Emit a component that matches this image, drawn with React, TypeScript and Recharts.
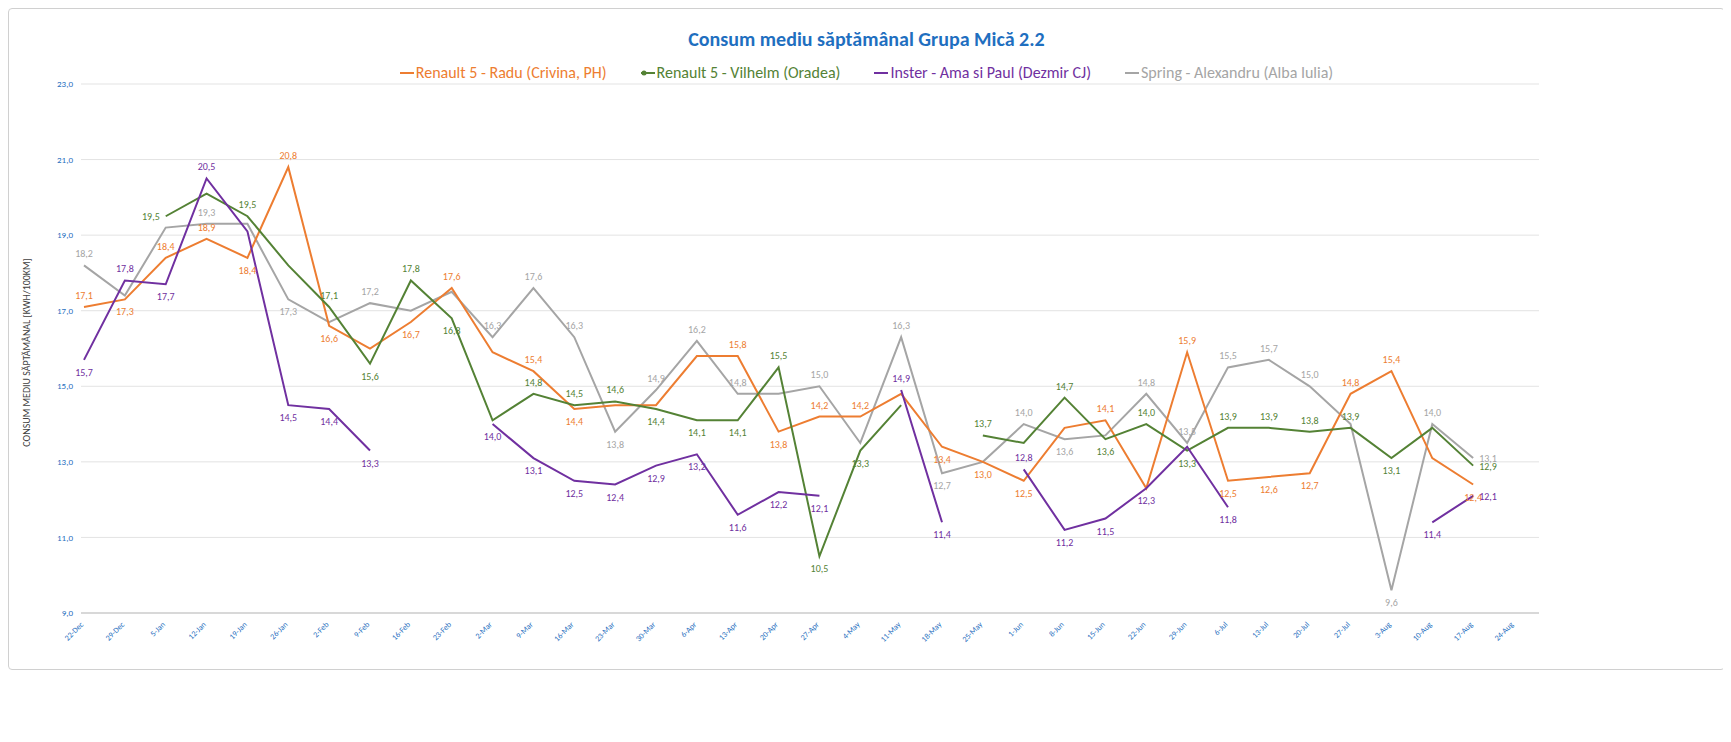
import React from "react";
import { LineChart, Line, XAxis, YAxis, CartesianGrid, LabelList } from "recharts";

const categories = ["22-Dec","29-Dec","5-Jan","12-Jan","19-Jan","26-Jan","2-Feb","9-Feb","16-Feb","23-Feb","2-Mar","9-Mar","16-Mar","23-Mar","30-Mar","6-Apr","13-Apr","20-Apr","27-Apr","4-May","11-May","18-May","25-May","1-Jun","8-Jun","15-Jun","22-Jun","29-Jun","6-Jul","13-Jul","20-Jul","27-Jul","3-Aug","10-Aug","17-Aug","24-Aug"];
const radu = [17.1,17.3,18.4,18.9,18.4,20.8,16.6,16.0,16.7,17.6,15.9,15.4,14.4,14.5,14.5,15.8,15.8,13.8,14.2,14.2,14.8,13.4,13.0,12.5,13.9,14.1,12.3,15.9,12.5,12.6,12.7,14.8,15.4,13.1,12.4,null];
const vilhelm = [null,null,19.5,20.1,19.5,18.2,17.1,15.6,17.8,16.8,14.1,14.8,14.5,14.6,14.4,14.1,14.1,15.5,10.5,13.3,14.5,null,13.7,13.5,14.7,13.6,14.0,13.3,13.9,13.9,13.8,13.9,13.1,13.9,12.9,null];
const inster = [15.7,17.8,17.7,20.5,19.1,14.5,14.4,13.3,null,null,14.0,13.1,12.5,12.4,12.9,13.2,11.6,12.2,12.1,null,14.9,11.4,null,12.8,11.2,11.5,12.3,13.4,11.8,null,null,null,null,11.4,12.1,null];
const spring = [18.2,17.4,19.2,19.3,19.3,17.3,16.7,17.2,17.0,17.5,16.3,17.6,16.3,13.8,14.9,16.2,14.8,14.8,15.0,13.5,16.3,12.7,13.0,14.0,13.6,13.7,14.8,13.5,15.5,15.7,15.0,14.0,9.6,14.0,13.1,null];
const yTicks = [9,11,13,15,17,19,21,23];

// label placement per point: t=above, b=below, l=left, r=right, "" = no label
const raduLbl = "t b t t b t b - b t - t b - - - t b t t - b b b - t - t b b b t t - b -".split(" ");
const vilhelmLbl = "- - l - t - t b t b - t t t b b b t b b - - t - t b t b t t t t b - r -".split(" ");
const insterLbl = "b t b t - b b b - - b b b b b b b b b - t b - t b b b - b - - - - b r -".split(" ");
const springLbl = "t - - t - b - t - - t t t b t t t - t - t b - t b - t t t t t - b t r -".split(" ");

const data = categories.map((c, i) => ({ c, radu: radu[i], vilhelm: vilhelm[i], inster: inster[i], spring: spring[i] }));
const fmt = (v: any) => (v == null ? "" : Number(v).toFixed(1).replace(".", ","));

const series = [
  { key: "spring", name: "Spring - Alexandru (Alba Iulia)", color: "#A5A5A5", lbl: springLbl },
  { key: "radu", name: "Renault 5 - Radu (Crivina, PH)", color: "#ED7D31", lbl: raduLbl },
  { key: "vilhelm", name: "Renault 5 - Vilhelm (Oradea)", color: "#548235", lbl: vilhelmLbl },
  { key: "inster", name: "Inster - Ama si Paul (Dezmir CJ)", color: "#7030A0", lbl: insterLbl },
];
const legendOrder = ["radu", "vilhelm", "inster", "spring"];

const XTick = (p: any) => (
  <text x={p.x} y={p.y + 4} transform={`rotate(-45 ${p.x} ${p.y + 4})`} textAnchor="end" fontSize={8} fill="#1F6FC0">{p.payload.value}</text>
);

const makeLabel = (lbl: string[], color: string, bold: boolean) => (p: any) => {
  const pos = lbl[p.index];
  if (!pos || pos === "-" || p.value == null) return null;
  let x = p.x, y = p.y, anchor: any = "middle";
  if (pos === "t") y -= 8;
  if (pos === "b") y += 16;
  if (pos === "l") { x -= 6; y += 4; anchor = "end"; }
  if (pos === "r") { x += 6; y += 4; anchor = "start"; }
  return <text key={p.index} x={x} y={y} textAnchor={anchor} fontSize={10} fontWeight={bold ? "bold" : "normal"} fill={color}>{fmt(p.value)}</text>;
};

export default function App() {
  return (
    <div style={{ width: 1715, height: 660, border: "1px solid #d0d0d0", borderRadius: 4, position: "relative", fontFamily: "Carlito, Calibri, 'Liberation Sans', sans-serif", background: "#fff" }}>
      <div style={{ position: "absolute", top: 18, width: "100%", textAlign: "center", color: "#1F6FC0", fontSize: 20, fontWeight: "bold" }}>Consum mediu săptămânal Grupa Mică 2.2</div>
      <div style={{ position: "absolute", top: 54, width: "100%", display: "flex", justifyContent: "center", gap: 34, fontSize: 16 }}>
        {legendOrder.map(k => { const s = series.find(x => x.key === k)!; return (
          <span key={k} style={{ display: "flex", alignItems: "center", color: s.color }}>
            <svg width={14} height={10} style={{ marginRight: 2 }}><line x1={0} y1={5} x2={14} y2={5} stroke={s.color} strokeWidth={2} />{k === "vilhelm" && <circle cx={3} cy={5} r={2.5} fill={s.color} />}</svg>
            {s.name}
          </span>); })}
      </div>
      <div style={{ position: "absolute", left: 4, top: 75, height: 537, width: 26, display: "flex", alignItems: "center", justifyContent: "center" }}>
        <div style={{ transform: "rotate(-90deg)", whiteSpace: "nowrap", fontSize: 10, color: "#404040" }}>CONSUM MEDIU SĂPTĂMÂNAL [KWH/100KM]</div>
      </div>
      <LineChart width={1715} height={660} data={data} margin={{ top: 75, right: 185, left: 22, bottom: 11 }}>
        <CartesianGrid vertical={false} stroke="#e3e3e3" />
        <XAxis dataKey="c" interval={0} tick={<XTick />} height={45} stroke="#bfbfbf" tickLine={false} padding={{ left: 3, right: 25 }} />
        <YAxis domain={[9, 23]} ticks={yTicks} tickFormatter={fmt} width={50} axisLine={false} tickLine={false} tick={{ fontSize: 9, fill: "#1F6FC0" }} />
        {series.map(s => (
          <Line key={s.key} dataKey={s.key} name={s.name} stroke={s.color} strokeWidth={2} dot={false} isAnimationActive={false} connectNulls={false}>
            <LabelList dataKey={s.key} content={makeLabel(s.lbl, s.color, false) as any} />
          </Line>
        ))}
      </LineChart>
    </div>
  );
}
